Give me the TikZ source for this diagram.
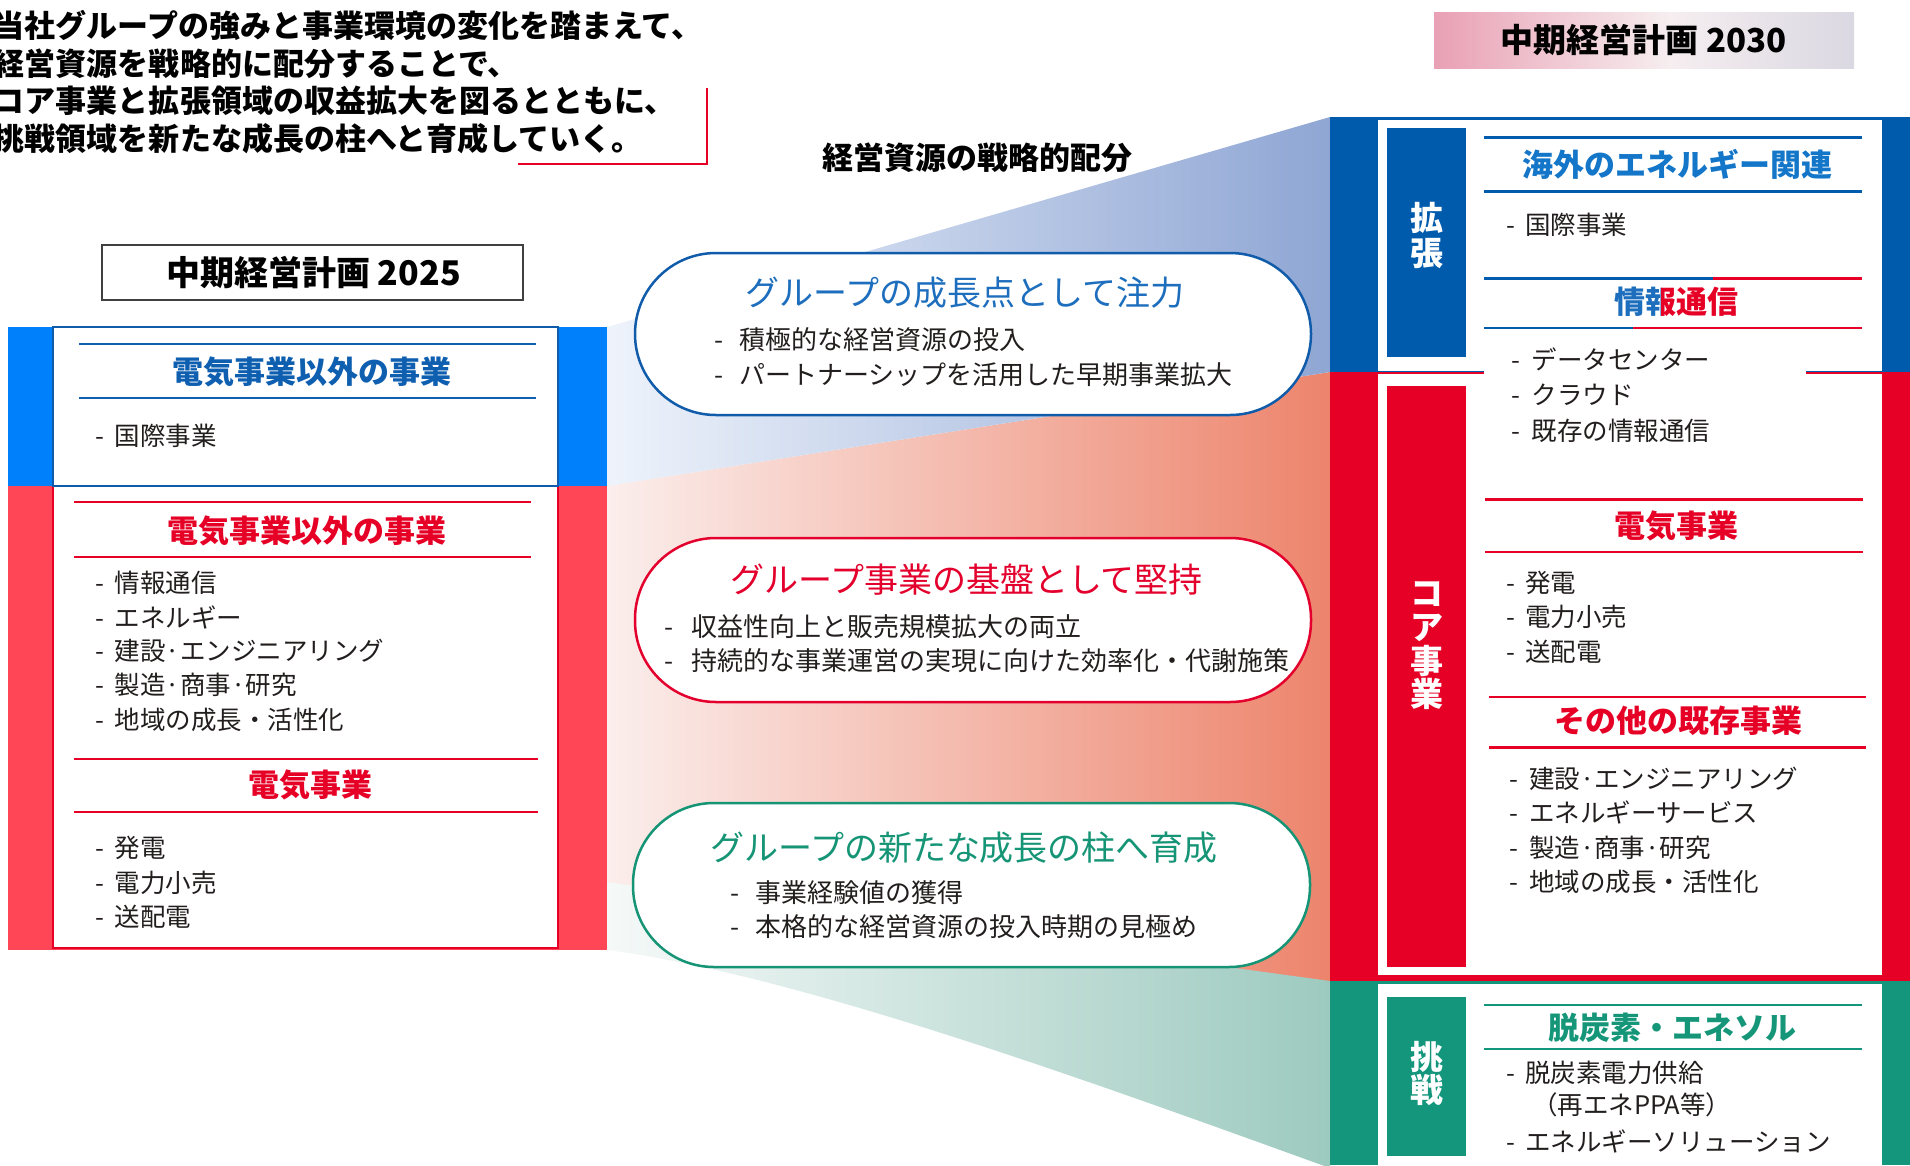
\documentclass[tikz,border=0pt]{standalone}
\usepackage{fontspec}
\setmainfont{Noto Sans CJK JP}
\newcommand\myfs[1]{\fontsize{#1pt}{#1pt}\selectfont}
\definecolor{lblue}{RGB}{0,128,250}
\definecolor{lred}{RGB}{255,70,86}
\definecolor{rblue}{RGB}{0,91,172}
\definecolor{rred}{RGB}{230,0,38}
\definecolor{rgreen}{RGB}{20,150,124}
\definecolor{hblue}{RGB}{14,95,176}
\definecolor{hblue2}{RGB}{20,118,200}
\definecolor{hred}{RGB}{230,0,38}
\definecolor{hgreen}{RGB}{22,150,121}
\definecolor{txt}{RGB}{35,30,30}
\definecolor{bblue}{RGB}{16,92,170}
\definecolor{bred}{RGB}{228,0,45}
\definecolor{bgreen}{RGB}{22,148,118}
\definecolor{tblue}{RGB}{30,110,190}
\definecolor{fanBa}{RGB}{238,243,251}
\definecolor{fanBb}{RGB}{143,166,212}
\definecolor{fanRa}{RGB}{251,238,236}
\definecolor{fanRb}{RGB}{237,132,108}
\definecolor{fanGa}{RGB}{245,249,248}
\definecolor{fanGb}{RGB}{157,202,191}
\definecolor{pinkL}{RGB}{233,160,180}
\definecolor{pinkM}{RGB}{246,238,240}
\definecolor{greyR}{RGB}{218,216,226}
\begin{document}
\begin{tikzpicture}[x=1pt,y=-1pt,
  every node/.style={inner sep=0pt,outer sep=0pt},
  fs/.style={font=\myfs{#1}, /utils/exec={\pgfmathsetmacro\myth{0.88*#1}\pgfmathsetmacro\mytd{0.12*#1}}, text height=\myth pt, text depth=\mytd pt},
  fsb/.style={fs=#1, font=\myfs{#1}\bfseries},
  itm/.style={fs=25.5, anchor=west, text=txt},
  bitm/.style={fs=26, anchor=west, text=txt},
  para/.style={fsb=31, anchor=west, text=black},
  head/.style={fsb=31},
  btitle/.style={fs=34},
  lbl/.style={fsb=33, text=white},
  hline/.style={line width=2.2pt},
  bubble/.style={line width=2.5pt, fill=white, rounded corners=81pt}
]
\useasboundingbox (0,0) rectangle (1910,1165);

% ---------- fans ----------
\shade[left color=fanRa, right color=fanRb] (607,486) -- (1330,372) -- (1330,981) -- (607,950) -- cycle;
\shade[left color=fanBa, right color=fanBb] (607,327) -- (1330,117) -- (1330,372) -- (607,486) -- cycle;
\shade[left color=fanGa, right color=fanGb] (607,882) -- (1330,981) -- (1330,1168) .. controls (1100,1085) and (800,975) .. (607,950) -- cycle;

% ---------- top paragraph ----------
\node[para] (p1) at (-6,26) {当社グループの強みと事業環境の変化を踏まえて、};
\node[para] (p2) at (-6,64) {経営資源を戦略的に配分することで、};
\node[para] (p3) at (-6,101) {コア事業と拡張領域の収益拡大を図るとともに、};
\node[para] (p4) at (-6,139) {挑戦領域を新たな成長の柱へと育成していく。};
\coordinate (brA) at (706.5,88);
\coordinate (brB) at (706.5,164);
\coordinate (brC) at (518,164);
\draw[hred, line width=2pt] (brA) -- (brB) -- (brC);

\node[fsb=31] (alloc) at (977,158) {経営資源の戦略的配分};

% ---------- left panel ----------
\draw[black!75, line width=1.3pt] (102,245) rectangle (523,300);
\node[fsb=34] (t25) at (313.5,272.5) {中期経営計画 2025};

\fill[lblue] (8,327) rectangle (607,486);
\fill[lred] (8,486) rectangle (607,950);
\draw[rred, line width=2pt, fill=white] (53,486) rectangle (558,948);
\draw[bblue, line width=2pt, fill=white] (53,327) rectangle (558,486);

\draw[hblue, hline] (79,344) -- (536,344);
\node[head, text=hblue] (lh1) at (311.5,372) {電気事業以外の事業};
\draw[hblue, hline] (79,398) -- (536,398);
\node[itm] (li0) at (95.5,436) {\makebox[19.5pt][l]{-}国際事業};

\draw[hred, hline] (74,502) -- (531,502);
\node[head, text=hred] (lh2) at (307,531) {電気事業以外の事業};
\draw[hred, hline] (74,557) -- (531,557);
\foreach \t/\yy [count=\i] in {情報通信/583, エネルギー/618, 建設·エンジニアリング/651, 製造·商事·研究/685, 地域の成長・活性化/720}
  \node[itm] (la\i) at (95.5,\yy) {\makebox[19.5pt][l]{-}\t};
\draw[hred, hline] (74,759) -- (538,759);
\node[head, text=hred] (lh3) at (310,784.5) {電気事業};
\draw[hred, hline] (74,812) -- (538,812);
\foreach \t/\yy [count=\i] in {発電/848, 電力小売/883, 送配電/917}
  \node[itm] (lb\i) at (95.5,\yy) {\makebox[19.5pt][l]{-}\t};

% ---------- right panel ----------
\shade[left color=pinkL, right color=pinkM] (1434,12) rectangle (1670,68);
\shade[left color=pinkM, right color=greyR] (1669,12) rectangle (1854,68);
\node[fsb=33] (t30) at (1643.5,40) {中期経営計画 2030};

\fill[rblue] (1330,117) rectangle (1910,372);
\fill[rred] (1330,372) rectangle (1910,981);
\fill[rgreen] (1330,981) rectangle (1910,1165);
\fill[white] (1378,120) rectangle (1882,370.5);
\fill[white] (1378,373.5) rectangle (1882,975);
\fill[white] (1378,983.5) rectangle (1882,1170);
\fill[white] (1484,364) rectangle (1806,380);

\fill[rblue] (1387,128) rectangle (1466,357);
\fill[rred] (1387,386) rectangle (1466,967);
\fill[rgreen] (1387,997) rectangle (1466,1156);
\foreach \c/\yy [count=\i] in {拡/218, 張/253}
  \node[lbl] (ka\i) at (1426.5,\yy) {\c};
\foreach \c/\yy [count=\i] in {コ/593, ア/627, 事/660.5, 業/694}
  \node[lbl] (ko\i) at (1426.5,\yy) {\c};
\foreach \c/\yy [count=\i] in {挑/1057, 戦/1090}
  \node[lbl] (ch\i) at (1426.5,\yy) {\c};

% 拡張
\draw[rblue, hline] (1484,137.5) -- (1862,137.5);
\node[head, text=hblue2] (rh1) at (1677,165) {海外のエネルギー関連};
\draw[rblue, hline] (1484,191.5) -- (1862,191.5);
\node[itm] (ri0) at (1506.5,224.5) {\makebox[18.5pt][l]{-}国際事業};

\draw[rblue, hline] (1484,278.5) -- (1713,278.5);
\draw[rred, hline] (1713,278.5) -- (1862,278.5);
\begin{scope}
  \clip (1560,284) rectangle (1661,324);
  \node[head, text=tblue] (rh2a) at (1676,302) {情報通信};
\end{scope}
\begin{scope}
  \clip (1661,284) rectangle (1800,324);
  \node[head, text=rred] (rh2b) at (1676,302) {情報通信};
\end{scope}
\draw[rblue, hline] (1484,328) -- (1633,328);
\draw[rred, hline] (1633,328) -- (1862,328);
\foreach \t/\yy [count=\i] in {データセンター/360, クラウド/395, 既存の情報通信/431}
  \node[itm] (rc\i) at (1511.5,\yy) {\makebox[20.5pt][l]{-}\t};

% コア事業
\draw[rred, hline] (1485,499.5) -- (1863,499.5);
\node[head, text=hred] (rh3) at (1676.5,525.5) {電気事業};
\draw[rred, hline] (1485,552) -- (1863,552);
\foreach \t/\yy [count=\i] in {発電/583, 電力小売/617, 送配電/652}
  \node[itm] (re\i) at (1506.5,\yy) {\makebox[18.5pt][l]{-}\t};
\draw[rred, hline] (1489,697) -- (1866,697);
\node[head, text=hred] (rh4) at (1678,721) {その他の既存事業};
\draw[rred, hline] (1489,747.5) -- (1866,747.5);
\foreach \t/\yy [count=\i] in {建設·エンジニアリング/779, エネルギーサービス/813, 製造·商事·研究/848, 地域の成長・活性化/882}
  \node[itm] (ro\i) at (1509.5,\yy) {\makebox[19.5pt][l]{-}\t};

% 挑戦
\draw[rgreen, hline] (1484,1005) -- (1862,1005);
\node[head, text=hgreen] (rh5) at (1672,1028) {脱炭素・エネソル};
\draw[rgreen, hline] (1484,1049) -- (1862,1049);
\node[itm] (rg1) at (1506.5,1073) {\makebox[18.5pt][l]{-}脱炭素電力供給};
\node[itm] (rg2) at (1532,1105) {（再エネPPA等）};
\node[itm] (rg3) at (1506.5,1142) {\makebox[18.5pt][l]{-}エネルギーソリューション};

% ---------- bubbles ----------
\draw[bblue, bubble] (635,253) rectangle (1311,415);
\node[btitle, text=tblue] (b1t) at (965,293) {グループの成長点として注力};
\node[bitm] (b1a) at (714.5,340) {\makebox[24.5pt][l]{-}積極的な経営資源の投入};
\node[bitm] (b1b) at (714.5,375) {\makebox[24.5pt][l]{-}パートナーシップを活用した早期事業拡大};

\draw[bred, bubble] (635,538) rectangle (1311,702);
\node[btitle, text=bred] (b2t) at (966.5,580) {グループ事業の基盤として堅持};
\node[bitm] (b2a) at (664.5,627) {\makebox[26.5pt][l]{-}収益性向上と販売規模拡大の両立};
\node[bitm] (b2b) at (664.5,661) {\makebox[26.5pt][l]{-}持続的な事業運営の実現に向けた効率化・代謝施策};

\draw[bgreen, bubble] (633,803) rectangle (1310,967);
\node[btitle, text=bgreen] (b3t) at (964,848) {グループの新たな成長の柱へ育成};
\node[bitm] (b3a) at (730.5,893) {\makebox[25.5pt][l]{-}事業経験値の獲得};
\node[bitm] (b3b) at (730.5,927) {\makebox[25.5pt][l]{-}本格的な経営資源の投入時期の見極め};
\end{tikzpicture}
\end{document}
